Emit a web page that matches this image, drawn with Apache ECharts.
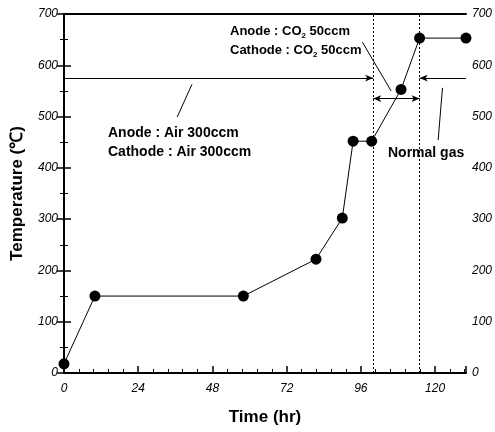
<!DOCTYPE html>
<html><head><meta charset="utf-8">
<script src="https://cdn.jsdelivr.net/npm/echarts@6/dist/echarts.min.js"></script>
<style>html,body{margin:0;padding:0;background:#fff}#c{width:495px;height:432px}</style>
</head><body><div id="c"></div>
<script>
// Data
const hours = [0, 10, 58, 81.5, 90, 93.5, 99.5, 109, 115, 130];
const temps = [18, 150, 150, 222, 302, 452, 452, 553, 653, 653];
const xTickLabels = [0, 24, 48, 72, 96, 120];
const yTickLabels = [0, 100, 200, 300, 400, 500, 600, 700];
const phaseBounds = [100, 115];
const airSpan = [0, 100, 575];
const co2Span = [100, 115, 535];
const normalSpan = [115, 130, 575];
const leaderAir = [[36.6, 499], [41.4, 563]];
const leaderCO2 = [[96.5, 645], [105.8, 550]];
const leaderNormal = [[121, 454], [122.4, 556]];
const labelAir = ['Anode : Air 300ccm', 'Cathode : Air 300ccm'];
const labelCO2 = ['Anode : CO', '2', ' 50ccm', 'Cathode : CO'];
const labelNormal = 'Normal gas';

const chart = echarts.init(document.getElementById('c'), null, {renderer: 'canvas'});
const lineStyleBase = {color: '#000', width: 1, type: 'solid'};
const tickFont = {fontFamily: 'Liberation Sans, Arial', fontStyle: 'italic', fontSize: 12, color: '#000'};
const annFont = 'bold 14px "Liberation Sans", Arial';
const annFontSm = 'bold 13px "Liberation Sans", Arial';

const option = {
  backgroundColor: '#fff',
  animation: false,
  grid: {left: 64, right: 26, top: 14, bottom: 59},
  xAxis: [{
    type: 'value', min: 0, max: 130, interval: 24,
    axisLine: {lineStyle: {color: '#000', width: 2}},
    axisTick: {inside: true, length: 7, lineStyle: {color: '#000', width: 1.5}},
    minorTick: {show: true, splitNumber: 5, length: 4, lineStyle: {color: '#000'}},
    splitLine: {show: false},
    axisLabel: Object.assign({margin: 10, showMaxLabel: false,
      formatter: v => xTickLabels.includes(v) ? String(v) : ''}, tickFont),
    name: 'Time (hr)', nameLocation: 'middle', nameGap: 36,
    nameTextStyle: {fontFamily: 'Liberation Sans, Arial', fontWeight: 'bold', fontSize: 17, color: '#000'}
  }, {
    type: 'value', min: 0, max: 130, position: 'top',
    axisLine: {show: true, onZero: false, lineStyle: {color: '#000', width: 2}},
    axisTick: {show: false}, axisLabel: {show: false}, splitLine: {show: false}
  }],
  yAxis: [{
    type: 'value', min: 0, max: 700, interval: 100,
    axisLine: {show: true, lineStyle: {color: '#000', width: 2}},
    axisTick: {show: true, inside: true, length: 7, lineStyle: {color: '#000', width: 1.5}},
    minorTick: {show: true, splitNumber: 2, length: 4, lineStyle: {color: '#000'}},
    splitLine: {show: false},
    axisLabel: Object.assign({margin: 6, formatter: v => yTickLabels.includes(v) ? String(v) : ''}, tickFont),
    name: 'Temperature (\u2103)', nameLocation: 'middle', nameGap: 38,
    nameTextStyle: {fontFamily: 'Liberation Sans, Arial', fontWeight: 'bold', fontSize: 17, color: '#000'}
  }, {
    type: 'value', min: 0, max: 700, interval: 100, position: 'right',
    axisLine: {show: true, lineStyle: {color: '#000', width: 2}},
    axisTick: {show: true, inside: true, length: 7, lineStyle: {color: '#000', width: 1.5}},
    minorTick: {show: true, splitNumber: 2, length: 4, lineStyle: {color: '#000'}},
    splitLine: {show: false},
    axisLabel: Object.assign({margin: 6, formatter: v => yTickLabels.includes(v) ? String(v) : ''}, tickFont)
  }],
  series: [{
    type: 'line',
    data: hours.map((h, i) => [h, temps[i]]),
    symbol: 'circle', symbolSize: 11, clip: false,
    itemStyle: {color: '#000'},
    lineStyle: {color: '#000', width: 1},
    z: 5
  }, {
    type: 'line', data: [], silent: true,
    markLine: {
      silent: true, animation: false,
      symbol: ['none', 'none'],
      label: {show: false},
      data: [
        ...phaseBounds.map(b => ({
          xAxis: b,
          lineStyle: {color: '#000', width: 1, type: [2, 2]}
        })),
        [{coord: [airSpan[0], airSpan[2]], symbol: 'none', lineStyle: lineStyleBase},
         {coord: [airSpan[1], airSpan[2]], symbol: 'arrow', symbolSize: [5, 8]}],
        [{coord: [co2Span[0], co2Span[2]], symbol: 'arrow', symbolSize: [5, 8], lineStyle: lineStyleBase},
         {coord: [co2Span[1], co2Span[2]], symbol: 'arrow', symbolSize: [5, 8]}],
        [{coord: [normalSpan[0], normalSpan[2]], symbol: 'arrow', symbolSize: [5, 8], lineStyle: lineStyleBase},
         {coord: [normalSpan[1], normalSpan[2]], symbol: 'none'}],
        [{coord: leaderAir[0], symbol: 'none', lineStyle: lineStyleBase}, {coord: leaderAir[1], symbol: 'none'}],
        [{coord: leaderCO2[0], symbol: 'none', lineStyle: lineStyleBase}, {coord: leaderCO2[1], symbol: 'none'}],
        [{coord: leaderNormal[0], symbol: 'none', lineStyle: lineStyleBase}, {coord: leaderNormal[1], symbol: 'none'}]
      ]
    }
  }],
  graphic: [
    {type: 'text', left: 108, top: 124, style: {text: labelAir[0] + '\n' + labelAir[1],
      font: annFont, fill: '#000', lineHeight: 19}},
    {type: 'text', left: 230, top: 23, style: {
      text: '{a|' + labelCO2[0] + '}{s|' + labelCO2[1] + '}{a|' + labelCO2[2] + '}\n{a|' + labelCO2[3] + '}{s|' + labelCO2[1] + '}{a|' + labelCO2[2] + '}',
      rich: {
        a: {font: annFontSm, fill: '#000', lineHeight: 19},
        s: {font: 'bold 8px "Liberation Sans", Arial', fill: '#000', padding: [9, 0, 0, 0], lineHeight: 19}
      }}},
    {type: 'text', left: 388, top: 146, style: {text: labelNormal,
      font: annFont, fill: '#000'}}
  ]
};
chart.setOption(option);
</script></body></html>
